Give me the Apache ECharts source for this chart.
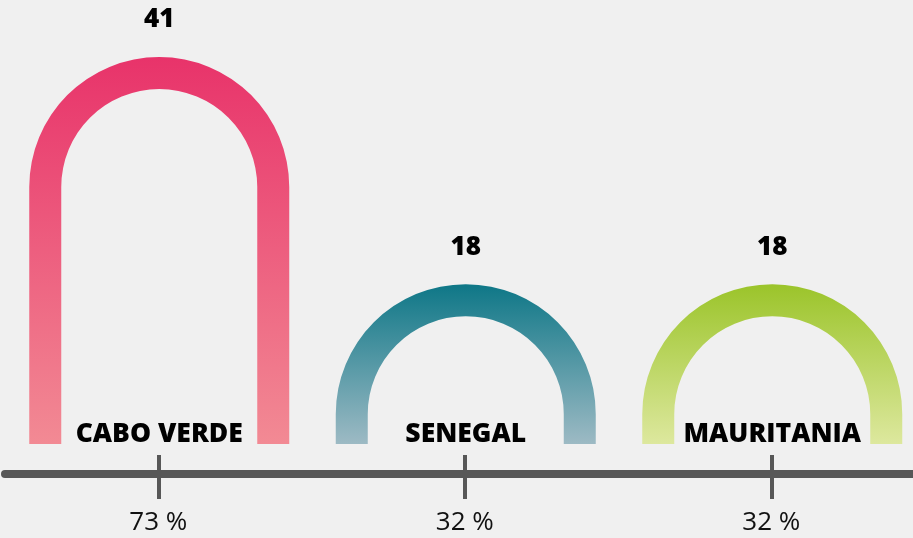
<!DOCTYPE html>
<html>
<head>
<meta charset="utf-8">
<script src="https://cdn.jsdelivr.net/npm/echarts@6/dist/echarts.min.js"></script>
<style>
  html, body { margin: 0; padding: 0; background: #f0f0f0; }
  #main { width: 913px; height: 538px; }
</style>
</head>
<body>
<div id="main"></div>
<script>
// datos
var countries = ["CABO VERDE", "SENEGAL", "MAURITANIA"];
var counts = [41, 18, 18];
var pctLabels = ["73 %", "32 %", "32 %"];
var topColors = ["#e8336a", "#0e7787", "#9bc42a"];
var bottomColors = ["#f28a94", "#9dbac4", "#dde89e"];

var chart = echarts.init(document.getElementById("main"));

var R = 130;      // radio exterior del arco
var W = 32;       // grosor del arco

function renderArch(params, api) {
  var i = api.value(0);
  var top = api.coord([i, api.value(1)]);
  var zero = api.coord([i, 0]);
  var cx = top[0] + 1;
  var base = zero[1] - 18;
  var cy = top[1] + R;
  var r = R - W;
  var d = "M " + (cx - R) + " " + base +
    " L " + (cx - R) + " " + cy +
    " A " + R + " " + R + " 0 0 1 " + (cx + R) + " " + cy +
    " L " + (cx + R) + " " + base +
    " L " + (cx + r) + " " + base +
    " L " + (cx + r) + " " + cy +
    " A " + r + " " + r + " 0 0 0 " + (cx - r) + " " + cy +
    " L " + (cx - r) + " " + base +
    " Z";
  return {
    type: "group",
    children: [
      {
        type: "path",
        shape: { pathData: d },
        style: {
          fill: new echarts.graphic.LinearGradient(0, 0, 0, 1, [
            { offset: 0, color: topColors[i] },
            { offset: 1, color: bottomColors[i] }
          ])
        }
      },
      {
        type: "text",
        x: cx,
        y: top[1] - 37,
        style: {
          text: String(api.value(1)),
          fill: "#000",
          font: "800 26px 'Open Sans'",
          align: "center",
          verticalAlign: "middle"
        }
      },
      {
        type: "text",
        x: cx,
        y: base - 10,
        style: {
          text: countries[i],
          fill: "#000",
          font: "800 26.5px 'Open Sans'",
          align: "center",
          verticalAlign: "middle"
        }
      }
    ]
  };
}

var option = {
  backgroundColor: "#f0f0f0",
  animation: false,
  grid: { left: 5, top: 57, width: 919.5, height: 405, outerBoundsMode: "none", containLabel: false },
  xAxis: [
    {
      type: "category",
      data: pctLabels,
      position: "bottom",
      offset: 12,
      axisLine: { show: true, onZero: false, lineStyle: { color: "#575757", width: 8 } },
      axisTick: { show: true, alignWithLabel: true, length: 25, lineStyle: { color: "#575757", width: 4 } },
      axisLabel: {
        margin: 36,
        color: "#111",
        fontSize: 26,
        fontFamily: "Open Sans"
      },
      splitLine: { show: false }
    },
    {
      type: "category",
      data: pctLabels,
      position: "bottom",
      offset: 12,
      axisLine: { show: false, onZero: false },
      axisTick: { show: true, inside: true, alignWithLabel: true, length: 19, lineStyle: { color: "#575757", width: 4 } },
      axisLabel: { show: false }
    }
  ],
  yAxis: {
    type: "value",
    min: 0,
    max: 41,
    show: false
  },
  series: [
    {
      type: "custom",
      renderItem: renderArch,
      clip: false,
      data: counts.map(function (v, i) { return [i, v]; })
    }
  ]
};

chart.setOption(option);
</script>
</body>
</html>
